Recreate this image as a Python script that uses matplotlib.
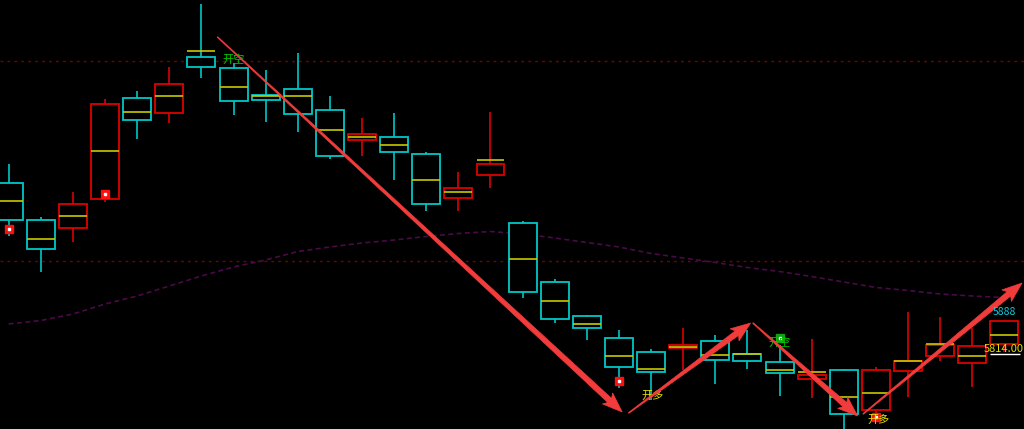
import numpy as np
import matplotlib
matplotlib.use("Agg")
import matplotlib.pyplot as plt
from matplotlib.patches import Polygon

plt.rcParams['font.family'] = ['Noto Sans CJK SC', 'DejaVu Sans']

# ---- data (prices) ----
opens  = [5897, 5878.5, 5874.5, 5889, 5939.5, 5932, 5960, 5954.5, 5941, 5944,
          5933.5, 5918.5, 5920, 5911.5, 5889.5, 5901, 5877, 5847.5, 5830.5, 5819.5,
          5812.5, 5814.5, 5818, 5811.5, 5807.5, 5799, 5803.5, 5783.5, 5803, 5810.5,
          5807, 5816.5]
closes = [5878.5, 5864, 5886.5, 5936.5, 5928.5, 5946.5, 5955, 5938, 5938.5, 5931.5,
          5910.5, 5921.5, 5912.5, 5886.5, 5894.5, 5906.5, 5842.5, 5829, 5824.5, 5805,
          5802.5, 5816, 5808.5, 5808, 5802, 5801, 5781.5, 5803.5, 5808, 5816,
          5815.5, 5828]
highs  = [5906.5, 5880, 5892.5, 5939, 5943, 5955, 5986.5, 5957, 5953.5, 5962,
          5940.5, 5929.5, 5932, 5912.5, 5902.5, 5932.5, 5878, 5849, 5831, 5823.5,
          5814, 5824.5, 5821, 5823.5, 5816, 5819, 5804, 5805, 5832.5, 5830,
          5824.5, 5828]
lows   = [5870.5, 5852.5, 5867.5, 5887.5, 5919, 5927, 5949.5, 5931, 5927.5, 5922.5,
          5909, 5910.5, 5898.5, 5883, 5883, 5894.5, 5839.5, 5827, 5818.5, 5794.5,
          5788.5, 5803.5, 5796.5, 5804, 5790.5, 5789.5, 5771, 5781, 5790, 5808,
          5795, 5812.5]
avg_line = [5888, 5869, 5880.5, 5913, 5932.5, 5940.5, 5963, 5945, 5940.5, 5940.5,
            5923.5, 5920, 5916, 5898.5, 5892.5, 5908.5, 5859, 5838, 5826.5, 5810.5,
            5804, 5815, 5811, 5811.5, 5803.5, 5802.5, 5790, 5792, 5808, 5816.5,
            5810.5, 5821]
ma = [5826.5, 5828.25, 5831.5, 5836.5, 5840.5, 5845.5, 5850.5, 5855, 5858.5, 5862.75,
      5865, 5867, 5868.5, 5870.25, 5871.75, 5872.75, 5871.5, 5869.5, 5867.25, 5865,
      5861.75, 5859.5, 5857.25, 5854.75, 5852.75, 5850.25, 5847.5, 5844.75, 5843.25, 5841.5,
      5840.5, 5839.75]
ref_levels = [5958, 5858]

buy_marks = [(0, 5874), (3, 5891.5), (19, 5798), (27, 5780)]
sell_marks = [(24, 5819.5)]
labels = [(7.0, 5958.5, "开空", "#00c800"), (24.0, 5817, "开空", "#00c800"),
          (20.05, 5790.5, "开多", "#e0e000"), (27.07, 5778.5, "开多", "#e0e000")]
arrows = [(6.5, 5970, 19.1, 5782.5), (19.3, 5782, 23.1, 5827),
          (23.17, 5827, 26.43, 5780.5), (26.6, 5781.5, 31.55, 5847)]
last_value_text = "5888"
last_price_text = "5814.00"
last_price = 5814

# ---- figure ----
fig = plt.figure(figsize=(10.24, 4.29), dpi=100, facecolor='black')
ax = fig.add_axes([0, 0, 1, 1], facecolor='black')
ax.set_xlim(-0.271, 31.61)
ax.set_ylim(5774, 5988.5)
ax.axis('off')

for lv in ref_levels:
    ax.axhline(lv, color='#7a0000', lw=1.0, ls=(0, (2, 3)), zorder=1)

x = np.arange(len(opens))
ax.plot(x, ma, color='#4a0a48', lw=1.2, ls=(0, (3, 2)), zorder=1)

CYAN = '#00c8c8'
RED = '#dd0000'
YEL = '#c8c800'
w = 0.87
for i in range(len(opens)):
    o, c, h, l = opens[i], closes[i], highs[i], lows[i]
    col = RED if c > o else CYAN
    ax.vlines(i, l, h, color=col, lw=1.2, zorder=2)
    lo, hi = min(o, c), max(o, c)
    ax.bar(i, hi - lo, bottom=lo, width=w, facecolor='black', edgecolor=col,
           linewidth=1.3, zorder=3)
    ax.hlines(avg_line[i], i - w / 2, i + w / 2, color=YEL, lw=1.2, zorder=4)

for (i, p) in buy_marks:
    ax.plot(i, p, marker='s', ms=6, mfc='#ff1010', mec='#ff1010', zorder=6)
    ax.plot(i, p, marker='s', ms=2, mfc='white', mec='white', zorder=7)
for (i, p) in sell_marks:
    ax.plot(i, p, marker='s', ms=6, mfc='#10a010', mec='#10a010', zorder=6)
    ax.plot(i, p, marker='s', ms=2, mfc='white', mec='white', zorder=7)

for (i, p, t, c) in labels:
    ax.text(i, p, t, color=c, fontsize=8, ha='center', va='center', zorder=8)

fig.canvas.draw()
T = ax.transData
Ti = T.inverted()
for (i0, p0, i1, p1) in arrows:
    S = T.transform((i0, p0))
    E = T.transform((i1, p1))
    d = E - S
    L = np.hypot(*d)
    u = d / L
    n = np.array([-u[1], u[0]])
    hl, hw, w0, w1 = 17.0, 7.5, 0.4, 2.8
    B = E - u * hl
    pts = [S + n * w0, B + n * w1, B + n * hw - u * 3, E,
           B - n * hw - u * 3, B - n * w1, S - n * w0]
    pts = Ti.transform(np.array(pts))
    ax.add_patch(Polygon(pts, closed=True, facecolor='#f23c3c', edgecolor='#f23c3c',
                         lw=0.5, zorder=9))

ax.text(31.0, 5832.5, last_value_text, color='#10c8d8', fontsize=7.5,
        ha='center', va='center', zorder=10)
ax.text(31.61, last_price, last_price_text, color='#e0e000', fontsize=8,
        ha='right', va='center', zorder=10)
ax.hlines(last_price - 2.7, 30.55, 31.5, color='white', lw=1.0, zorder=10)

fig.savefig('out.png', dpi=100, facecolor='black')
